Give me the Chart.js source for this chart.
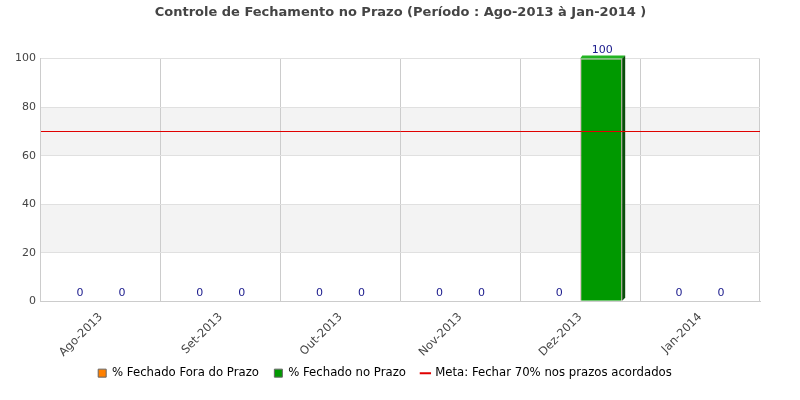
<!DOCTYPE html>
<html><head><meta charset="utf-8">
<script src="https://cdn.jsdelivr.net/npm/chart.js@4/dist/chart.umd.min.js"></script>
<style>html,body{margin:0;padding:0;background:#fff}#wrap{width:800px;height:400px}</style>
</head><body><div id="wrap"><canvas id="c" width="800" height="400"></canvas></div>
<script>
const categories = ['Ago-2013','Set-2013','Out-2013','Nov-2013','Dez-2013','Jan-2014'];
const foraPrazo = [0,0,0,0,0,0];
const noPrazo = [0,0,0,0,100,0];
const meta = 70;
const yTicks = [0,20,40,60,80,100];
const FONT = "'DejaVu Sans',sans-serif";
const META_COLOR = '#e00000';

const labelsPlugin = {
  id:'valLabels',
  afterDatasetsDraw(chart){
    const ctx = chart.ctx;
    [0,1].forEach(di=>{
      const metaDs = chart.getDatasetMeta(di);
      metaDs.data.forEach((el,i)=>{
        const v = chart.data.datasets[di].data[i];
        if(v>0){
          const l = el.x - el.width/2, r = el.x + el.width/2, t = el.y, b = el.base;
          ctx.save();
          ctx.fillStyle = di===1 ? '#22b422' : '#ffa040';
          ctx.beginPath();ctx.moveTo(l,t);ctx.lineTo(l+2,t-3);ctx.lineTo(r+3,t-3);ctx.lineTo(r,t);ctx.closePath();ctx.fill();
          ctx.fillStyle = di===1 ? '#0a4d0a' : '#8a4a00';
          ctx.beginPath();ctx.moveTo(r,t);ctx.lineTo(r+3,t-3);ctx.lineTo(r+3,b-3);ctx.lineTo(r,b);ctx.closePath();ctx.fill();
          ctx.restore();
        }
      });
    });
    const y = chart.scales.y, a = chart.chartArea;
    const py = Math.round(y.getPixelForValue(meta)) + 0.5;
    ctx.save();
    ctx.strokeStyle = META_COLOR; ctx.lineWidth = 1;
    ctx.beginPath(); ctx.moveTo(a.left, py); ctx.lineTo(a.right, py); ctx.stroke();
    ctx.restore();
    ctx.save();
    ctx.font = "11px " + FONT;
    ctx.fillStyle = '#1a1a8c';
    ctx.textAlign = 'center';
    ctx.textBaseline = 'bottom';
    [0,1].forEach(di=>{
      const metaDs = chart.getDatasetMeta(di);
      metaDs.data.forEach((el,i)=>{
        const v = chart.data.datasets[di].data[i];
        ctx.fillText(String(v), el.x + (v>0?1:0), el.y - 3);
      });
    });
    ctx.restore();
  }
};

const bandsPlugin = {
  id:'bands',
  beforeDraw(chart){
    const y = chart.scales.y, a = chart.chartArea, ctx = chart.ctx;
    ctx.save();
    ctx.fillStyle = '#f3f3f3';
    for(let k=1;k<yTicks.length-1;k+=2){
      const y1 = y.getPixelForValue(yTicks[k]), y2 = y.getPixelForValue(yTicks[k+1]);
      ctx.fillRect(a.left, y2, a.right-a.left, y1-y2);
    }
    ctx.restore();
  }
};

new Chart(document.getElementById('c'), {
  type:'bar',
  data:{
    labels: categories,
    datasets:[
      {label:'% Fechado Fora do Prazo', data: foraPrazo, backgroundColor:'#ff8000', borderColor:'#c8a0a8', borderWidth:1, categoryPercentage:0.7, barPercentage:1},
      {label:'% Fechado no Prazo', data: noPrazo, backgroundColor:'#009900', borderColor:'#c8a0a8', borderWidth:1, categoryPercentage:0.7, barPercentage:1},
      {type:'line', label:'Meta: Fechar 70% nos prazos acordados', data: categories.map(()=>null), borderColor:META_COLOR, backgroundColor:META_COLOR, borderWidth:1, pointRadius:0}
    ]
  },
  options:{
    responsive:false, animation:false,
    layout:{padding:{left:10,right:40,top:0,bottom:11}},
    plugins:{
      title:{display:true, fullSize:false, text:'Controle de Fechamento no Prazo (Período : Ago-2013 à Jan-2014 )', color:'#444', font:{family:FONT, size:13, weight:'bold'}, padding:{top:5,bottom:38}},
      legend:{position:'bottom', labels:{
        font:{family:FONT,size:11.7}, color:'#000', usePointStyle:true, boxWidth:8, boxHeight:8, padding:8,
        generateLabels(chart){
          const items = Chart.defaults.plugins.legend.labels.generateLabels(chart);
          items.sort((a,b)=>a.datasetIndex-b.datasetIndex);
          items.forEach(it=>{
            if(it.datasetIndex<2){ it.pointStyle='rect'; it.strokeStyle='#666'; it.lineWidth=1; it.text = it.text + '  '; }
            else { it.pointStyle='line'; it.strokeStyle=META_COLOR; it.lineWidth=2; }
          });
          return items;
        }
      }},
      tooltip:{enabled:false}
    },
    scales:{
      x:{type:'category', offset:true, grid:{offset:true, color:'#cccccc', drawTicks:false}, border:{color:'#cccccc'},
         ticks:{minRotation:45, maxRotation:45, color:'#444', font:{family:FONT,size:11.5}, padding:9},
         afterFit(s){ s.height = 58; }},
      y:{min:0, max:100, afterBuildTicks(ax){ax.ticks = yTicks.map(v=>({value:v}));},
         grid:{color:'#e0e0e0', drawTicks:false}, border:{color:'#cccccc'},
         ticks:{color:'#444', font:{family:FONT,size:11}, padding:5}}
    }
  },
  plugins:[bandsPlugin, labelsPlugin]
});
</script></body></html>
